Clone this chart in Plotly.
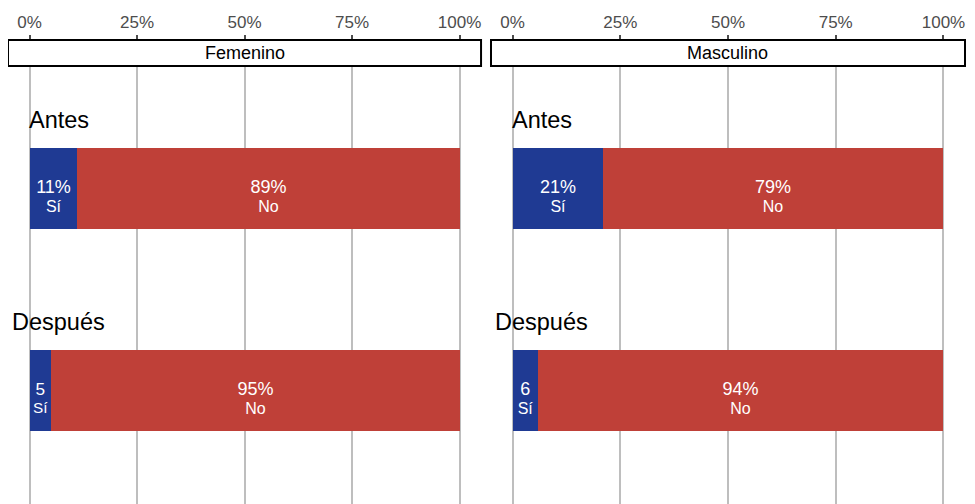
import plotly.graph_objects as go

periodos = ['Antes', 'Después']
sexos = ['Femenino', 'Masculino']
# porcentajes por sexo y periodo
si_fem = [11, 5]
no_fem = [89, 95]
si_mas = [21, 6]
no_mas = [79, 94]
# etiquetas de las barras (las estrechas sin %)
txt_si_fem = ['11%', '5']
txt_no_fem = ['89%', '95%']
txt_si_mas = ['21%', '6']
txt_no_mas = ['79%', '94%']
tick_vals = [0, 25, 50, 75, 100]
tick_text = ['0%', '25%', '50%', '75%', '100%']

azul = '#1F3A93'
rojo = '#BF4038'
fuente = 'Liberation Sans, Arial, sans-serif'


def etiqueta(valor, nombre):
    # linea vacia arriba para que el valor quede en el centro de la barra
    return (f"&nbsp;<br><span style='font-size:18px'>{valor}</span>"
            f"<br><span style='font-size:16px'>{nombre}</span>")


fig = go.Figure()

paneles = [
    ('x', 'y', si_fem, no_fem, txt_si_fem, txt_no_fem),
    ('x2', 'y2', si_mas, no_mas, txt_si_mas, txt_no_mas),
]
for xa, ya, si, no, tsi, tno in paneles:
    fig.add_trace(go.Bar(
        y=periodos, x=si, orientation='h', xaxis=xa, yaxis=ya,
        marker=dict(color=azul, line=dict(width=0)), width=0.4,
        text=[etiqueta(t, 'Sí') for t in tsi],
        textposition='inside', insidetextanchor='middle',
        textfont=dict(color='white', size=14, family=fuente),
        hoverinfo='skip', showlegend=False))
    fig.add_trace(go.Bar(
        y=periodos, x=no, orientation='h', xaxis=xa, yaxis=ya,
        marker=dict(color=rojo, line=dict(width=0)), width=0.4,
        text=[etiqueta(t, 'No') for t in tno],
        textposition='inside', insidetextanchor='middle',
        textfont=dict(color='white', size=14, family=fuente),
        hoverinfo='skip', showlegend=False))

eje_x = dict(range=[-5, 105], side='top', tickvals=tick_vals, ticktext=tick_text,
             showgrid=True, gridcolor='#BEBEBE', gridwidth=1.5, zeroline=False,
             ticks='outside', ticklen=4, tickcolor='#4D4D4D', tickwidth=1.5,
             tickfont=dict(size=17, color='#4D4D4D', family=fuente),
             showline=False, fixedrange=True)
eje_y = dict(type='category', categoryorder='array', categoryarray=periodos,
             range=[1.562, -0.735], showticklabels=False, showgrid=False,
             zeroline=False, ticks='', fixedrange=True)

# la pagina tiene 8px de margen propio (body), se descuenta aqui
dom_izq = [0, 0.4943]
dom_der = [0.5047, 1]
fig.update_layout(
    width=959, height=496,
    margin=dict(l=0, r=2, t=32, b=0),
    barmode='stack', bargap=0,
    plot_bgcolor='white', paper_bgcolor='white',
    font=dict(family=fuente),
    xaxis=dict(eje_x, domain=dom_izq, anchor='y'),
    xaxis2=dict(eje_x, domain=dom_der, anchor='y2'),
    yaxis=dict(eje_y, anchor='x'),
    yaxis2=dict(eje_y, anchor='x2'),
)

strip_y0 = 1 - 26 / 464
for i, sexo in enumerate(sexos):
    xa = 'x' if i == 0 else 'x2'
    ya = 'y' if i == 0 else 'y2'
    fig.add_shape(type='rect', xref=f'{xa} domain', yref='paper',
                  x0=0, x1=1, y0=strip_y0, y1=1.0,
                  fillcolor='white', line=dict(color='black', width=2), layer='above')
    fig.add_annotation(text=sexo, xref=f'{xa} domain', yref='paper', x=0.5,
                       y=(strip_y0 + 1) / 2,
                       xanchor='center', yanchor='middle', showarrow=False,
                       font=dict(size=18, color='black', family=fuente))
    for p in periodos:
        fig.add_annotation(text=p, xref=xa, yref=ya, x=6.8, y=p, yshift=68,
                           xanchor='center', yanchor='middle', showarrow=False,
                           font=dict(size=23.5, color='black', family=fuente))

fig.write_html("out.html")
